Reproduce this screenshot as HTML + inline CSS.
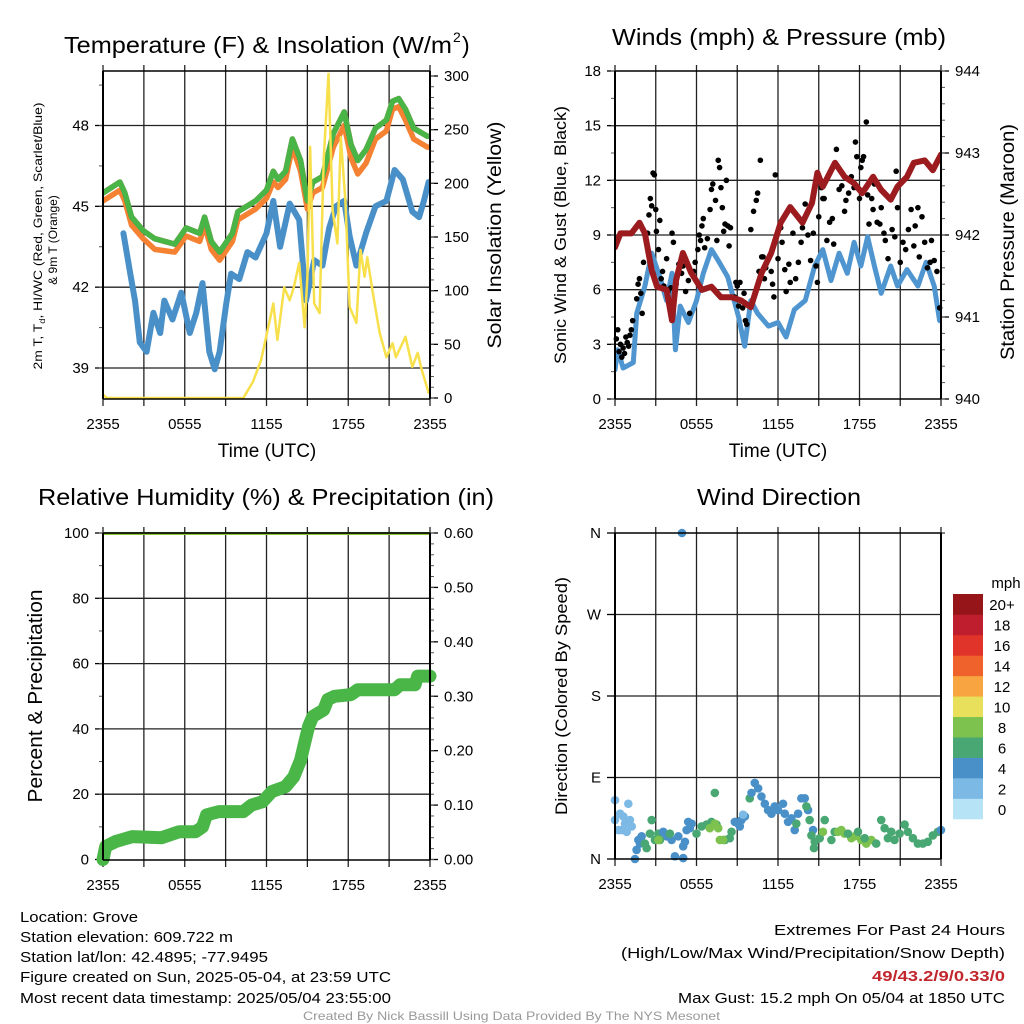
<!DOCTYPE html>
<html><head><meta charset="utf-8"><style>
html,body{margin:0;padding:0;background:#fff;}
svg{display:block;font-family:"Liberation Sans",sans-serif;}
</style></head><body>
<svg id="chart" width="1024" height="1024" viewBox="0 0 1024 1024" xmlns="http://www.w3.org/2000/svg">
<rect x="0" y="0" width="1024" height="1024" fill="#fff"/>
<g id="layer"></g>
<!-- titles -->
<text x="64" y="53" font-size="23" textLength="388" lengthAdjust="spacingAndGlyphs">Temperature (F) &amp; Insolation (W/m</text>
<text x="453" y="42" font-size="14">2</text>
<text x="462" y="53" font-size="23">)</text>
<text x="612" y="45" font-size="23" textLength="334" lengthAdjust="spacingAndGlyphs">Winds (mph) &amp; Pressure (mb)</text>
<text x="38" y="505" font-size="23" textLength="456" lengthAdjust="spacingAndGlyphs">Relative Humidity (%) &amp; Precipitation (in)</text>
<text x="697" y="505" font-size="23" textLength="164" lengthAdjust="spacingAndGlyphs">Wind Direction</text>
<!-- axis titles -->
<text x="267" y="457" font-size="19" text-anchor="middle">Time (UTC)</text>
<text x="778" y="457" font-size="19" text-anchor="middle">Time (UTC)</text>
<text transform="translate(42,236) rotate(-90)" font-size="12" text-anchor="middle" textLength="267" lengthAdjust="spacingAndGlyphs">2m T, T<tspan font-size="8" dy="3">d</tspan><tspan dy="-3">, HI/WC (Red, Green, Scarlet/Blue)</tspan></text>
<text transform="translate(57,240) rotate(-90)" font-size="12" text-anchor="middle">&amp; 9m T (Orange)</text>
<text transform="translate(501,235) rotate(-90)" font-size="19" text-anchor="middle" textLength="227" lengthAdjust="spacingAndGlyphs">Solar Insolation (Yellow)</text>
<text transform="translate(566,235) rotate(-90)" font-size="17" text-anchor="middle" textLength="258" lengthAdjust="spacingAndGlyphs">Sonic Wind &amp; Gust (Blue, Black)</text>
<text transform="translate(1014,242) rotate(-90)" font-size="19" text-anchor="middle" textLength="236" lengthAdjust="spacingAndGlyphs">Station Pressure (Maroon)</text>
<text transform="translate(42,696) rotate(-90)" font-size="20" text-anchor="middle" textLength="213" lengthAdjust="spacingAndGlyphs">Percent &amp; Precipitation</text>
<text transform="translate(567,696) rotate(-90)" font-size="17" text-anchor="middle" textLength="238" lengthAdjust="spacingAndGlyphs">Direction (Colored By Speed)</text>
<!-- footer -->
<g font-size="15">
<text x="20" y="922" textLength="118" lengthAdjust="spacingAndGlyphs">Location: Grove</text>
<text x="20" y="942" textLength="213" lengthAdjust="spacingAndGlyphs">Station elevation: 609.722 m</text>
<text x="20" y="962" textLength="248" lengthAdjust="spacingAndGlyphs">Station lat/lon: 42.4895; -77.9495</text>
<text x="20" y="982" textLength="371" lengthAdjust="spacingAndGlyphs">Figure created on Sun, 2025-05-04, at 23:59 UTC</text>
<text x="20" y="1003" textLength="371" lengthAdjust="spacingAndGlyphs">Most recent data timestamp: 2025/05/04 23:55:00</text>
<text x="774" y="935" textLength="231" lengthAdjust="spacingAndGlyphs">Extremes For Past 24 Hours</text>
<text x="621" y="958" textLength="384" lengthAdjust="spacingAndGlyphs">(High/Low/Max Wind/Precipitation/Snow Depth)</text>
<text x="872" y="981" fill="#c1272d" font-weight="bold" textLength="133" lengthAdjust="spacingAndGlyphs">49/43.2/9/0.33/0</text>
<text x="678" y="1003" textLength="327" lengthAdjust="spacingAndGlyphs">Max Gust: 15.2 mph On 05/04 at 1850 UTC</text>
</g>
<text x="303" y="1020" font-size="12" fill="#999" textLength="417" lengthAdjust="spacingAndGlyphs">Created By Nick Bassill Using Data Provided By The NYS Mesonet</text>
</svg>
<script>
// ---------- Data ----------
const timeTickLabels = ["2355","0555","1155","1755","2355"];
// Temperature panel
const tempHours = [0,1.24,1.6,2.1,2.95,3.8,5.27,6.1,7.1,7.46,7.95,8.56,9.5,9.9,11.2,12,12.5,12.85,13.4,13.9,14.5,15,15.4,16.1,16.9,17.7,18.2,18.7,19.3,20,20.8,21.25,21.7,22.2,22.8,23.8,24];
const temp2m = [45.5,45.9,45.5,44.6,44.1,43.8,43.6,44.2,44.0,44.6,43.7,43.3,44.0,44.8,45.2,45.6,46.3,46.0,46.3,47.5,46.7,45.2,45.9,46.1,47.7,48.5,47.3,46.7,47.1,47.9,48.2,48.9,49.0,48.6,47.9,47.6,47.6];
const temp9m = [45.2,45.6,45.2,44.3,43.8,43.4,43.3,43.9,43.7,44.3,43.4,43.0,43.7,44.5,44.9,45.3,45.9,45.7,46.0,47.2,46.3,44.9,45.5,45.7,47.2,48.0,46.8,46.2,46.6,47.5,47.8,48.6,48.7,48.2,47.5,47.2,47.2];
const dewHours = [1.5,2,2.35,2.7,3.2,3.7,4.2,4.5,5.1,5.75,6.37,6.85,7.3,7.8,8.2,8.56,9.05,9.4,10,10.6,11.2,12,12.5,13,13.7,14.4,14.9,15.5,16.1,16.6,17.1,17.7,18.1,18.6,19.3,20,20.8,21.4,22,22.7,23.2,23.55,23.9];
const dewpoint = [44.0,42.5,41.5,39.95,39.6,41.05,40.3,41.5,40.8,41.8,40.3,41.05,42.15,39.6,38.95,39.6,41.4,42.5,42.3,43.3,43.1,44.0,45.2,43.5,45.1,44.5,41.5,43.0,42.8,44.2,45.0,45.2,43.9,42.8,44.0,45.0,45.2,46.35,46.0,44.8,44.6,45.2,45.9];
const solarHours = [0,0.3,0.6,10.3,11,11.6,12.2,12.5,12.8,13.3,13.7,14,14.4,14.8,15,15.2,15.5,15.9,16.2,16.55,16.85,17.2,17.45,17.8,18.1,18.6,18.9,19.2,19.4,19.8,20.3,20.8,21.25,21.5,22.2,22.7,23.1,23.4,23.9];
const solar = [3,0,0,0,15,35,70,88,54,103,91,103,126,66,113,234,88,79,222,302,175,144,243,182,85,70,138,113,131,98,61,38,51,38,57,29,42,26,5];
const tempTicks = [39,42,45,48];
const solarTicks = [0,50,100,150,200,250,300];
// Wind panel
const windHours = [0,0.2,0.6,1.35,1.6,2.2,2.7,3.3,3.8,4.2,4.45,4.8,5.4,6,6.5,7.1,7.6,8.3,9.1,9.55,10,10.5,11.3,12,12.6,13.2,14,14.7,15.3,15.9,16.5,17.1,17.6,18.1,18.6,19.1,19.6,20.3,20.8,21.5,22.3,22.9,23.5,23.9];
const windSpeed = [1.6,2.7,1.7,2.0,4.7,6.2,8.0,6.7,5.4,6.9,2.7,5.1,4.2,5.4,6.9,8.2,7.6,6.7,4.5,2.9,5.4,4.7,4.0,4.2,3.4,4.9,5.4,7.3,8.2,6.5,8.0,6.9,8.6,7.3,8.9,7.3,5.8,7.3,6.2,7.1,6.2,7.5,6.2,4.3];
const pressHours = [0,0.4,1.2,1.8,2.2,2.7,3.1,3.8,4.2,4.5,5,5.6,6.4,7.1,7.8,8.6,9.3,10,10.8,11.5,12.2,12.9,13.8,14.5,14.9,15.3,16.2,16.9,17.6,18.2,19,19.6,20.3,20.8,21.5,22,22.8,23.4,24];
const pressure = [941.85,942.02,942.02,942.15,942.02,941.57,941.37,941.33,940.96,941.45,941.78,941.54,941.33,941.37,941.24,941.24,941.2,941.12,941.54,941.78,942.15,942.34,942.15,942.39,942.76,942.59,942.88,942.71,942.63,942.51,942.71,942.55,942.43,942.59,942.71,942.88,942.91,942.79,942.98];
const gustHours = [0.1,0.2,0.3,0.4,0.5,0.6,0.7,0.8,0.9,1.0,1.1,1.2,1.3,1.6,1.7,1.8,1.9,2.0,2.1,2.4,2.5,2.6,2.7,2.8,2.9,3.0,3.05,3.2,3.3,3.4,3.5,3.6,3.8,3.9,4.1,4.2,4.3,4.5,4.7,4.9,5.0,5.2,5.4,5.5,5.8,5.9,6.1,6.2,6.3,6.4,6.5,6.6,6.8,7.0,7.1,7.2,7.4,7.5,7.6,7.7,7.8,7.9,8.0,8.1,8.2,8.3,8.4,8.5,8.8,8.9,9.0,9.1,9.2,9.4,9.5,9.6,9.7,10.0,10.2,10.4,10.5,10.6,10.7,10.8,10.9,11.0,11.1,11.3,11.5,11.6,11.7,11.8,12.0,12.2,12.3,12.5,12.6,12.8,12.9,13.1,13.3,13.5,13.7,13.8,14.0,14.2,14.4,14.6,14.8,14.9,15.0,15.2,15.3,15.4,15.6,15.8,16.0,16.1,16.3,16.5,16.7,16.9,17.0,17.2,17.4,17.6,17.7,17.8,18.0,18.1,18.2,18.3,18.5,18.6,18.7,18.9,19.0,19.1,19.3,19.5,19.6,19.8,19.9,20.1,20.3,20.4,20.6,20.7,20.8,21.0,21.2,21.4,21.6,21.8,22.0,22.1,22.3,22.4,22.6,22.8,23.0,23.2,23.3,23.5,23.7,23.9];
const gustSpeed = [3.3,3.8,2.6,3.0,2.3,2.8,2.5,3.4,3.1,2.9,3.5,3.8,4.3,5.5,6.3,6.6,5.8,4.7,7.5,9.1,10.1,11.0,10.6,12.4,12.3,10.4,9.2,8.2,9.8,6.6,7.0,6.2,7.7,5.9,6.1,9.1,8.6,6.3,7.4,6.9,7.3,5.9,6.5,4.7,7.0,7.5,8.2,9.0,8.7,9.5,9.9,8.3,8.8,10.4,11.5,11.8,10.9,8.7,13.1,12.7,11.6,10.5,9.2,9.6,12.0,9.5,8.4,9.4,5.6,6.4,6.2,5.1,6.4,5.0,5.8,4.3,4.1,9.3,10.3,10.9,11.3,7.0,13.1,7.8,7.8,6.6,7.2,7.7,7.0,6.3,5.6,12.3,7.7,9.4,8.6,7.1,5.9,7.4,6.4,9.1,6.6,7.5,8.6,9.4,10.7,9.0,7.6,9.1,7.3,6.4,10.0,11.6,11.0,11.0,8.7,9.7,9.9,8.5,13.7,11.5,11.7,10.3,10.9,11.3,12.2,11.6,14.1,13.3,11.0,12.7,13.1,13.3,15.2,11.2,9.6,11.0,10.4,11.8,9.7,9.6,10.5,9.1,8.7,7.7,11.0,9.3,8.9,12.5,10.5,7.5,8.6,8.2,9.3,10.4,8.4,9.5,10.5,7.8,10.0,8.6,7.2,7.5,8.7,7.6,7.0,5.0];
const windTicks = [0,3,6,9,12,15,18];
const pressTicks = [940,941,942,943,944];
// Humidity / precip panel
const rhHours = [0,24];
const rhValues = [100,100];
const precipHours = [0,0.2,0.93,2.15,4.3,5.6,6.8,7.3,7.6,8.5,10.3,10.9,11.7,12.4,13.4,14,14.5,14.8,15.1,15.4,16.2,16.5,17,18.2,18.7,21.4,21.8,22.9,23.1,24];
const precip = [0,0.024,0.033,0.042,0.04,0.051,0.051,0.06,0.082,0.088,0.088,0.1,0.106,0.125,0.134,0.152,0.183,0.214,0.245,0.263,0.275,0.294,0.3,0.303,0.312,0.312,0.321,0.321,0.337,0.337];
const rhTicks = [0,20,40,60,80,100];
const precipTicks = [0,0.1,0.2,0.3,0.4,0.5,0.6];
// Wind direction panel
const dirHours = [0,0,0.37,0.61,0.98,0.25,0.74,1.1,0.49,1.23,0.86,1.72,1.59,1.47,1.96,1.84,2.2,2.7,2.57,2.33,2.94,3.19,3.55,3.8,4.17,4.41,5.02,4.66,5.15,5.02,4.04,3.31,3.19,5.27,5.39,5.64,5.51,6.0,6.37,6.74,7.1,7.35,7.47,8.09,8.45,8.58,6.98,7.35,7.72,7.96,7.6,8.82,9.07,9.31,9.56,9.19,9.43,9.92,10.05,10.29,10.54,10.78,11.03,11.27,11.52,11.76,12.0,12.37,12.5,12.74,12.99,13.23,13.48,13.72,13.97,14.21,14.58,13.35,14.09,14.33,14.46,14.7,14.65,15.07,15.44,15.93,16.17,15.31,16.42,16.66,16.9,17.4,17.64,18.13,18.5,18.87,17.15,17.89,18.38,19.23,19.6,19.85,20.09,20.34,20.58,20.95,21.32,21.56,21.93,22.3,22.66,23.03,23.4,23.77,24,4.93];
const dirDeg = [65,43,50,47,61,32,39,43,32,36,30,21,10,0,25,17,17,43,28,12,21,28,30,25,21,3,1,25,19,14,28,21,21,32,41,39,34,28,36,38,41,73,38,21,23,30,34,39,21,21,34,41,39,43,47,36,49,67,73,84,78,69,61,54,50,58,54,61,50,41,45,32,50,67,67,54,32,39,58,43,26,19,12,23,43,21,30,30,30,32,28,23,25,21,17,21,28,30,23,17,43,34,23,30,21,28,38,30,23,17,17,19,26,30,32,360];
const dirSpeed = [3,3,3,3,3,3,3,3,3,3,3,5,5,5,5,5,7,7,7,7,7,7,5,5,5,5,5,5,5,5,7,7,9,5,5,5,5,7,7,7,7,7,7,7,7,7,9,9,9,9,9,5,5,5,5,5,3,7,5,5,5,5,5,5,5,5,5,5,5,5,5,5,5,5,5,5,5,7,7,7,7,7,7,7,7,7,7,9,9,9,9,9,9,9,9,9,7,7,7,7,7,7,7,7,7,7,7,7,7,7,7,7,7,7,5,5];
const dirTicks = [0,90,180,270,360];
const dirTickLabels = ["N","E","S","W","N"];
const cbarLabels = ["0","2","4","6","8","10","12","14","16","18","20+"];
const cbarColors = ["#b7e3f7","#7db9e5","#4a90c8","#48a772","#7dc24e","#e8e05a","#f8a541","#f0622b","#e0332a","#be1e2d","#961519"];

// ---------- Helpers ----------
const NS = "http://www.w3.org/2000/svg";
const layer = document.getElementById("layer");
function mk(tag, attrs, parent) {
  const e = document.createElementNS(NS, tag);
  for (const k in attrs) e.setAttribute(k, attrs[k]);
  (parent || layer).appendChild(e);
  return e;
}
function lin(d0, d1, r0, r1) { return v => r0 + (v - d0) * (r1 - r0) / (d1 - d0); }
function fmt(v, dec) { return v.toFixed(dec); }

function panel(name, x0, x1, y0, y1) {
  const g = mk("g", {});
  
  
  const xs = lin(0, 24, x0, x1);
  // vertical gridlines every 3 h with outward ticks
  for (let h = 0; h <= 24; h += 3) {
    const x = xs(h);
    const gl = mk("line", {x1: x, x2: x, y1: y0 - 6, y2: y1 + 7, stroke: "#222", "stroke-width": 1.3}, g);
    
    
  }
  timeTickLabels.forEach((lab, i) => {
    const t = mk("text", {x: xs(i * 6), y: y1 + 30, "font-size": 15, "text-anchor": "middle"}, g);
    t.textContent = lab;
    
    
  });
  return {g, xs, x0, x1, y0, y1};
}
function leftAxis(p, ys, ticks, labels, minorStep, minorFrom, minorTo, grid) {
  ticks.forEach((v, i) => {
    const y = ys(v);
    mk("line", {x1: p.x0 - 8, x2: p.x0, y1: y, y2: y, stroke: "#000", "stroke-width": 1.3}, p.g);
    if (grid && y > p.y0 + 2 && y < p.y1 - 2) {
      const gl = mk("line", {x1: p.x0, x2: p.x1, y1: y, y2: y, stroke: "#222", "stroke-width": 1.3}, p.g);
      
      
    }
    const t = mk("text", {x: p.x0 - 14, y: y + 5, "font-size": 15, "text-anchor": "end"}, p.g);
    t.textContent = labels[i];
    
    
  });
  if (minorStep) for (let v = minorFrom; v <= minorTo + 1e-9; v += minorStep) {
    const y = ys(v);
    if (y >= p.y0 - 1 && y <= p.y1 + 1) mk("line", {x1: p.x0 - 4, x2: p.x0, y1: y, y2: y, stroke: "#555", "stroke-width": 1}, p.g);
  }
}
function rightAxis(p, ys, ticks, labels, minorStep, minorFrom, minorTo) {
  ticks.forEach((v, i) => {
    const y = ys(v);
    mk("line", {x1: p.x1, x2: p.x1 + 8, y1: y, y2: y, stroke: "#000", "stroke-width": 1.3}, p.g);
    const t = mk("text", {x: p.x1 + 14, y: y + 5, "font-size": 15}, p.g);
    t.textContent = labels[i];
    
    
  });
  for (let v = minorFrom; v <= minorTo + 1e-9; v += minorStep) {
    const y = ys(v);
    if (y >= p.y0 - 1 && y <= p.y1 + 1) mk("line", {x1: p.x1, x2: p.x1 + 4, y1: y, y2: y, stroke: "#555", "stroke-width": 1}, p.g);
  }
}
function frame(p) {
  mk("line", {x1: p.x0, x2: p.x1, y1: p.y0, y2: p.y0, stroke: "#000", "stroke-width": 1.5}, p.g);
  mk("line", {x1: p.x0, x2: p.x1, y1: p.y1, y2: p.y1, stroke: "#000", "stroke-width": 1.5}, p.g);
  mk("line", {x1: p.x0, x2: p.x0, y1: p.y0, y2: p.y1, stroke: "#000", "stroke-width": 2}, p.g);
  mk("line", {x1: p.x1, x2: p.x1, y1: p.y0, y2: p.y1, stroke: "#000", "stroke-width": 2}, p.g);
}
function line(p, hours, vals, ys, color, w, name, clipId) {
  const pts = hours.map((h, i) => p.xs(h).toFixed(1) + "," + ys(vals[i]).toFixed(1)).join(" ");
  const e = mk("polyline", {points: pts, fill: "none", stroke: color, "stroke-width": w, "stroke-linejoin": "round", "stroke-linecap": "round", "clip-path": "url(#" + clipId + ")"}, p.g);
  
  
  return e;
}
function clip(id, p) {
  const defs = mk("defs", {});
  const c = mk("clipPath", {id: id}, defs);
  mk("rect", {x: p.x0, y: p.y0 - 1, width: p.x1 - p.x0, height: p.y1 - p.y0 + 2}, c);
}

// ---------- Panel 1: Temperature ----------
const p1 = panel("temperature-panel", 103, 430, 71, 399);
clip("c1", p1);
const yT = lin(39, 48, 368, 125.5);
const yS = lin(0, 300, 398, 76);
leftAxis(p1, yT, tempTicks, tempTicks.map(String), 1.5, 37.5, 49.5, true);
rightAxis(p1, yS, solarTicks, solarTicks.map(String), 10, 0, 300);
line(p1, dewHours, dewpoint, yT, "#4a90c8", 6, "dewpoint-line", "c1");
line(p1, tempHours, temp9m, yT, "#f58232", 5.5, "temp-9m-line", "c1");
line(p1, tempHours, temp2m, yT, "#d62728", 5.5, "temp-2m-red-line", "c1");
line(p1, tempHours, temp2m, yT, "#49b547", 5.5, "temp-2m-line", "c1");
line(p1, solarHours, solar, yS, "#f7e04b", 2.5, "solar-line", "c1");
frame(p1);

// ---------- Panel 2: Winds ----------
const p2 = panel("winds-panel", 615, 941, 71, 399);
clip("c2", p2);
const yW = lin(0, 18, 399, 71);
const yP = lin(940, 944, 399, 71);
leftAxis(p2, yW, windTicks, windTicks.map(String), 1.5, 0, 18, true);
rightAxis(p2, yP, pressTicks, pressTicks.map(String), 0.2, 940, 944);
line(p2, windHours, windSpeed, yW, "#4f95d0", 5, "wind-speed-line", "c2");
gustHours.forEach((h, i) => {
  const c = mk("circle", {cx: p2.xs(h), cy: yW(gustSpeed[i]), r: 2.8, fill: "#000"}, p2.g);
  
  
});
line(p2, pressHours, pressure, yP, "#9b1b1e", 6, "pressure-line", "c2");
frame(p2);

// ---------- Panel 3: RH / Precip ----------
const p3 = panel("humidity-panel", 103, 430, 533, 860);
clip("c3", p3);
const yR = lin(0, 100, 859.5, 533);
const yPr = lin(0, 0.6, 859.5, 533);
leftAxis(p3, yR, rhTicks, rhTicks.map(String), 10, 0, 100, true);
rightAxis(p3, yPr, precipTicks, precipTicks.map(v => fmt(v, 2)), 0.02, 0, 0.6);
line(p3, rhHours, rhValues, yR, "#8cc63f", 4, "rh-line", "c3");
mk("line", {x1: 103, x2: 430, y1: 533, y2: 533, stroke: "#000", "stroke-width": 1.3}, p3.g);
line(p3, precipHours, precip, yPr, "#4ab648", 13, "precip-line", "c3xx");
frame(p3);

// ---------- Panel 4: Wind direction ----------
const p4 = panel("wind-direction-panel", 615, 941, 533, 859);
const yD = lin(0, 360, 859, 533);
leftAxis(p4, yD, dirTicks, dirTickLabels, 0, 0, 0, true);
mk("line", {x1: 941, x2: 945, y1: 533, y2: 533, stroke: "#000"}, p4.g);
dirHours.forEach((h, i) => {
  const idx = Math.max(0, Math.min(10, Math.floor(dirSpeed[i] / 2)));
  const c = mk("circle", {cx: p4.xs(h), cy: yD(dirDeg[i]), r: 4.3, fill: cbarColors[idx]}, p4.g);
  
  
});
frame(p4);

// ---------- Colorbar ----------
const cb = mk("g", {});


const cbY = lin(0, 11, 819, 594);
cbarColors.forEach((col, i) => {
  const r = mk("rect", {x: 953, y: cbY(i + 1), width: 30, height: cbY(i) - cbY(i + 1) + 0.3, fill: col}, cb);
  
  
  const t = mk("text", {x: 1002, y: cbY(i + 0.5) + 6, "font-size": 15, "text-anchor": "middle"}, cb);
  t.textContent = cbarLabels[i];
  
  
});
const mph = mk("text", {x: 1006, y: 588, "font-size": 15, "text-anchor": "middle"}, cb);
mph.textContent = "mph";


</script>
</body></html>
